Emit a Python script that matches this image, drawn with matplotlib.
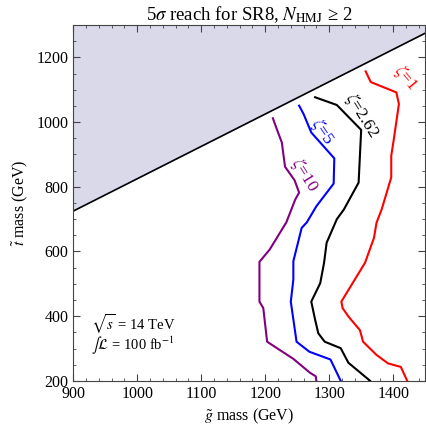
import matplotlib
matplotlib.use('Agg')
import matplotlib.pyplot as plt
from matplotlib.ticker import MultipleLocator

plt.rcParams['font.family'] = ['Liberation Serif', 'DejaVu Serif']
plt.rcParams['mathtext.fontset'] = 'stix'

# kinematic boundary m_gluino = m_stop + m_top
edge_gluino = [900, 1450]
edge_stop = [725, 1275]

# 5 sigma contours, (gluino mass, stop mass) in GeV
zeta1_gluino = [1357, 1365, 1405, 1409, 1401, 1397, 1397, 1382, 1374, 1370, 1356,
                1319, 1321, 1330, 1348, 1353, 1374, 1392, 1412, 1422]
zeta1_stop = [1157, 1124, 1092, 1056, 947, 896, 829, 730, 689, 642, 565,
              445, 425, 399, 357, 321, 280, 254, 243, 200]

zeta262_gluino = [1278, 1312, 1350, 1346, 1323, 1312, 1296, 1292, 1286, 1272,
                  1278, 1283, 1293, 1318, 1330, 1364]
zeta262_stop = [1077, 1053, 976, 813, 730, 700, 627, 565, 502, 445,
                389, 347, 321, 301, 256, 200]

zeta5_gluino = [1253, 1260, 1272, 1308, 1307, 1280, 1265, 1257, 1244, 1244,
                1240, 1249, 1269, 1302, 1318]
zeta5_stop = [1051, 1025, 968, 888, 810, 740, 690, 673, 570, 513,
              445, 321, 290, 266, 200]

zeta10_gluino = [1212, 1218, 1226, 1231, 1246, 1253, 1247, 1233, 1207, 1191,
                 1191, 1197, 1203, 1244, 1270, 1279, 1280]
zeta10_stop = [1012, 979, 937, 862, 820, 782, 761, 690, 606, 568,
               445, 425, 321, 268, 225, 214, 200]

curves = [
    (zeta1_gluino, zeta1_stop, '#ff0000', r'$\zeta$=1', (1420, 1137), -50),
    (zeta262_gluino, zeta262_stop, 'black', r'$\zeta$=2.62', (1351, 1022), -58),
    (zeta5_gluino, zeta5_stop, '#0000ff', r'$\zeta$=5', (1289, 971), -56),
    (zeta10_gluino, zeta10_stop, '#800080', r'$\zeta$=10', (1261, 836), -58),
]

fig = plt.figure(figsize=(4.26, 4.26), dpi=100)
ax = fig.add_axes([0.172, 0.106, 0.826, 0.835])

ax.fill_between(edge_gluino, edge_stop, [1300, 1300], color='#d9d9ea', lw=0)
ax.plot(edge_gluino, edge_stop, color='black', lw=1.2)

for xs, ys, color, label, pos, rot in curves:
    ax.plot(xs, ys, color=color, lw=1.5)
    ax.text(pos[0], pos[1], label, color=color, fontsize=12.5, rotation=rot,
            ha='center', va='center')

ax.text(928, 375, r'$\sqrt{s}$ = 14 TeV', fontsize=10.5, va='center')
ax.text(928, 307, r'$\int\mathcal{L}$ = 100 fb$^{-1}$', fontsize=10.5, va='center')

ax.set_xlim(900, 1450)
ax.set_ylim(200, 1300)
ax.xaxis.set_major_locator(MultipleLocator(100))
ax.xaxis.set_minor_locator(MultipleLocator(20))
ax.yaxis.set_major_locator(MultipleLocator(200))
ax.yaxis.set_minor_locator(MultipleLocator(50))
ax.tick_params(which='both', direction='in', top=True, right=True, labelsize=11.5,
               color='#444444')
ax.tick_params(which='major', length=5)
ax.tick_params(which='minor', length=2.5)
for sp in ax.spines.values():
    sp.set_color('#444444')

ax.set_xlabel(r'$\tilde{g}$ mass (GeV)', fontsize=11.5, labelpad=4)
ax.set_ylabel(r'$\tilde{t}$ mass (GeV)', fontsize=11.5, labelpad=4)
ax.set_title('5$\\sigma$ reach for SR8, $N_{\\mathrm{HMJ}}$ \u2265 2', fontsize=13.5, pad=3)

fig.savefig('out.png', dpi=100)
